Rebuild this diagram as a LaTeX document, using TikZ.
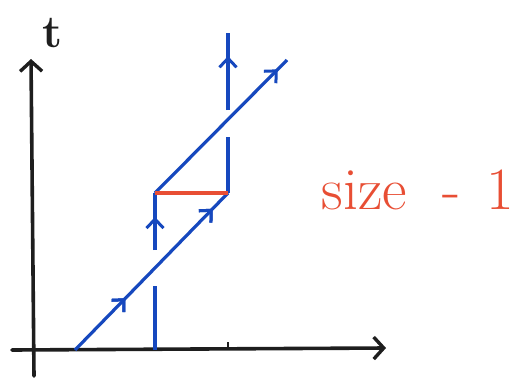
\documentclass[tikz,border=0pt]{standalone}
\usetikzlibrary{arrows.meta,decorations.markings}
\definecolor{penblue}{RGB}{22,72,190}
\definecolor{penred}{RGB}{232,78,52}
\definecolor{penblack}{RGB}{30,30,30}
\tikzset{
  axisline/.style={draw=penblack,line width=3.6pt,line cap=round},
  world/.style={draw=penblue,line width=3.2pt},
  midarrow/.style={postaction={decorate},decoration={markings,
     mark=at position #1 with {\arrow[penblue,line width=3pt]{Straight Barb[length=9pt,width=17pt]}}}},
  cut/.style={draw=penred,line width=3.4pt},
}
\begin{document}
\begin{tikzpicture}[x=1pt,y=-1pt]
\useasboundingbox (0,0) rectangle (528,383);
\fill[white] (0,0) rectangle (528,383);
% axes
\coordinate (xs) at (12,350);
\coordinate (xe) at (386,348);
\coordinate (ys) at (34,376);
\coordinate (ye) at (31,59);
\draw[axisline,-{Straight Barb[length=10pt,width=22pt,line width=3.4pt]}] (xs) -- (xe);
\draw[axisline,-{Straight Barb[length=10pt,width=22pt,line width=3.4pt]}] (ys) -- (ye);
\node[font=\fontsize{46}{46}\selectfont\bfseries,text=penblack] (tlabel) at (53,33) {t};
% small tick on x axis
\coordinate (tk1) at (228,347);
\coordinate (tk2) at (228,342);
\draw[draw=penblack,line width=2.4pt] (tk1) -- (tk2);
% points
\coordinate (a0) at (75,350);
\coordinate (p) at (155,193);
\coordinate (q) at (228,193);
\coordinate (a1) at (287,60);
% lower diagonal
\draw[world,midarrow=0.33,midarrow=0.9] (a0) -- (q);
% upper diagonal
\draw[world,midarrow=0.93] (p) -- (a1);
% left vertical (with gap)
\coordinate (l0) at (155,350);
\coordinate (l1) at (155,286);
\coordinate (l2) at (155,250);
\draw[world] (l0) -- (l1);
\draw[world,midarrow=0.58] (l2) -- (p);
% right vertical (with gap)
\coordinate (r1) at (228,137);
\coordinate (r2) at (228,110);
\coordinate (r3) at (228,33);
\draw[world] (q) -- (r1);
\draw[world,midarrow=0.7] (r2) -- (r3);
% red cut
\draw[cut] (p) -- (q);
% label
\node[text=penred,font=\fontsize{60}{60}\selectfont,anchor=base west] (lab) at (318,209) {size\hspace{36pt}-\hspace{26pt}1};
\end{tikzpicture}
\end{document}
